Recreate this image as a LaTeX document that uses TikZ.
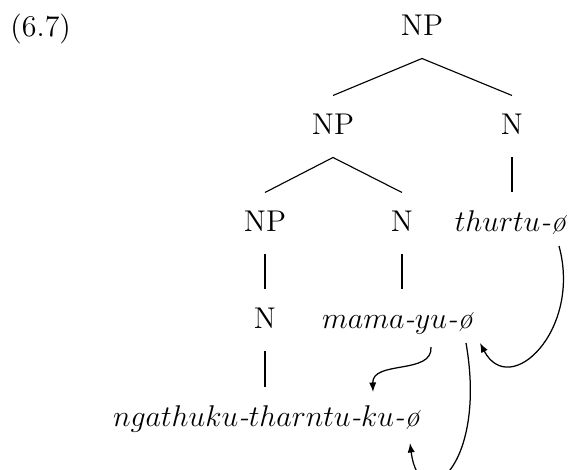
\documentclass[tikz,border=0pt]{standalone}
\usetikzlibrary{arrows.meta}
\begin{document}
\begin{tikzpicture}[x=0.4pt,y=-0.4pt,
  tn/.style={inner sep=0pt, text height=15.6pt, text depth=8.8pt, anchor=base,
             font=\fontsize{12}{14}\selectfont},
  br/.style={line width=0.45pt},
  mv/.style={line width=0.5pt, -{Latex[length=3.8pt,width=2.9pt]}}]
\useasboundingbox (0,0) rectangle (569,470);
\clip (0,0) rectangle (569,470);
\node[tn, anchor=base west] (ex) at (10,37) {(6.7)};
\node[tn] (np1) at (422,36) {NP};
\node[tn] (np2) at (333,135) {NP};
\node[tn] (n2) at (512,135) {N};
\node[tn] (np3) at (265,232) {NP};
\node[tn] (n3) at (402,232) {N};
\node[tn] (thurtu) at (511,232) {$thurtu$\textit{-\o}};
\node[tn] (n4) at (265,329) {N};
\node[tn] (mama) at (398,329) {$mama$\textit{-}$yu$\textit{-\o}};
\node[tn] (ngath) at (267,427) {$ngathuku$\textit{-}$tharntu$\textit{-}$ku$\textit{-\o}};
\draw[br] (np1.south) -- (np2.north);
\draw[br] (np1.south) -- (n2.north);
\draw[br] (np2.south) -- (np3.north);
\draw[br] (np2.south) -- (n3.north);
\draw[br] (n2.south) -- (n2.south |- thurtu.north);
\draw[br] (np3.south) -- (np3.south |- n4.north);
\draw[br] (n3.south) -- (n3.south |- mama.north);
\draw[br] (n4.south) -- (n4.south |- ngath.north);
\coordinate (a1s) at (431,347);
\coordinate (a1e) at (373,392);
\coordinate (a2s) at (466,343);
\coordinate (a2e) at (410,443);
\coordinate (a3s) at (559,246);
\coordinate (a3e) at (480,343);
\draw[mv] (a1s) .. controls (433,375) and (372,360) .. (a1e);
\draw[mv] (a2s) .. controls (488,468) and (420,520) .. (a2e);
\draw[mv] (a3s) .. controls (582,330) and (510,400) .. (a3e);
\end{tikzpicture}
\end{document}
